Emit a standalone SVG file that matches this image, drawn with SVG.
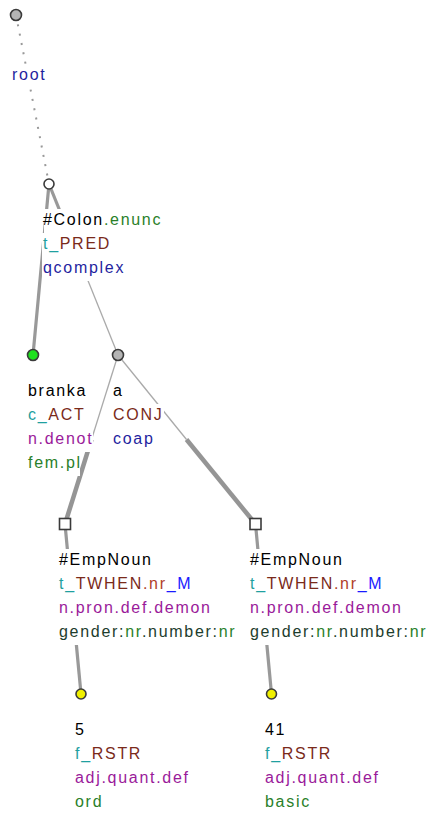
<svg xmlns="http://www.w3.org/2000/svg" width="431" height="816" viewBox="0 0 431 816">
<style>
text{font-family:"Liberation Sans",Arial,sans-serif;font-size:16px;letter-spacing:1.7px}
.bg{fill:#fff}
.k{fill:#000}
.tl{fill:#1fa0a0}
.br{fill:#7a2a1a}
.rb{fill:#b0402a}
.bl{fill:#1a1aff}
.nv{fill:#1f1fa0}
.pu{fill:#9a1a9a}
.gr{fill:#2a7f2a}
.dg{fill:#1d3d2d}
.thin{stroke:#aaa;stroke-width:1.3;fill:none}
.thick{stroke:#999;stroke-width:3.2;fill:none}
.fat{stroke:#959595;stroke-width:4.5;fill:none}
.dot{stroke:#999;stroke-width:2;stroke-dasharray:2 7.5;fill:none}
.nd{stroke:#3a3a3a;stroke-width:1.6}
</style>
<g id="connectors">
<line class="dot" x1="16" y1="15" x2="49" y2="184"/>
<line class="thick" x1="49" y1="184" x2="33" y2="355"/>
<line class="thick" x1="49" y1="184" x2="83.5" y2="269.5"/>
<line class="thin" x1="83.5" y1="269.5" x2="118" y2="355"/>
<line class="thin" x1="118" y1="355" x2="91.5" y2="439.5"/>
<line class="fat" x1="91.5" y1="439.5" x2="65" y2="524"/>
<line class="thin" x1="118" y1="355" x2="186.5" y2="439.5"/>
<line class="fat" x1="186.5" y1="439.5" x2="255.5" y2="524"/>
<line class="thick" x1="65" y1="524" x2="81" y2="694"/>
<line class="thick" x1="255.5" y1="524" x2="271.5" y2="694"/>
</g>
<g id="n-root">
<circle class="nd" cx="16" cy="15" r="5.5" fill="#b4b4b4"/>
<rect class="bg" x="11" y="64" width="34" height="24"/>
<text x="12" y="80" class="nv">root</text>
</g>
<g id="n-colon">
<circle class="nd" cx="49" cy="184" r="5" fill="#fff"/>
<rect class="bg" x="44" y="209" width="119" height="24"/>
<rect class="bg" x="42" y="233" width="69" height="24"/>
<rect class="bg" x="42" y="257" width="83" height="24"/>
<text x="43" y="225"><tspan class="k">#Colon</tspan><tspan class="gr">.enunc</tspan></text>
<text x="43" y="249"><tspan class="tl">t_</tspan><tspan class="br">PRED</tspan></text>
<text x="43" y="273" class="nv">qcomplex</text>
</g>
<g id="n-branka">
<circle class="nd" cx="33" cy="355" r="5.5" fill="#1ee01e"/>
<rect class="bg" x="27" y="380" width="60" height="24"/>
<rect class="bg" x="27" y="404" width="56" height="24"/>
<rect class="bg" x="27" y="428" width="66" height="24"/>
<rect class="bg" x="27" y="452" width="53" height="24"/>
<text x="28" y="396" class="k">branka</text>
<text x="28" y="420"><tspan class="tl">c_</tspan><tspan class="br">ACT</tspan></text>
<text x="28" y="444" class="pu">n.denot</text>
<text x="28" y="468" class="gr">fem.pl</text>
</g>
<g id="n-a">
<circle class="nd" cx="118" cy="355" r="5.5" fill="#b4b4b4"/>
<rect class="bg" x="112" y="380" width="12" height="24"/>
<rect class="bg" x="112" y="404" width="52" height="24"/>
<rect class="bg" x="112" y="428" width="43" height="24"/>
<text x="113" y="396" class="k">a</text>
<text x="113" y="420" class="br">CONJ</text>
<text x="113" y="444" class="nv">coap</text>
</g>
<g id="n-empnoun1">
<rect class="nd" x="59.5" y="518.5" width="11" height="11" fill="#fff"/>
<rect class="bg" x="58" y="549" width="97" height="24"/>
<rect class="bg" x="58" y="573" width="138" height="24"/>
<rect class="bg" x="58" y="597" width="151" height="24"/>
<rect class="bg" x="58" y="621" width="176" height="24"/>
<text x="59" y="565" class="k">#EmpNoun</text>
<text x="59" y="589"><tspan class="tl">t_</tspan><tspan class="br">TWHEN</tspan><tspan class="rb">.nr</tspan><tspan class="bl">_M</tspan></text>
<text x="59" y="613" class="pu">n.pron.def.demon</text>
<text x="59" y="637"><tspan class="dg">gender:</tspan><tspan class="gr">nr</tspan><tspan class="dg">.number:</tspan><tspan class="gr">nr</tspan></text>
</g>
<g id="n-empnoun2">
<rect class="nd" x="250" y="518.5" width="11" height="11" fill="#fff"/>
<rect class="bg" x="249" y="549" width="97" height="24"/>
<rect class="bg" x="249" y="573" width="138" height="24"/>
<rect class="bg" x="249" y="597" width="151" height="24"/>
<rect class="bg" x="249" y="621" width="176" height="24"/>
<text x="250" y="565" class="k">#EmpNoun</text>
<text x="250" y="589"><tspan class="tl">t_</tspan><tspan class="br">TWHEN</tspan><tspan class="rb">.nr</tspan><tspan class="bl">_M</tspan></text>
<text x="250" y="613" class="pu">n.pron.def.demon</text>
<text x="250" y="637"><tspan class="dg">gender:</tspan><tspan class="gr">nr</tspan><tspan class="dg">.number:</tspan><tspan class="gr">nr</tspan></text>
</g>
<g id="n-5">
<circle class="nd" cx="81" cy="694" r="5" fill="#f0f000"/>
<text x="75" y="735" class="k">5</text>
<text x="75" y="759"><tspan class="tl">f_</tspan><tspan class="br">RSTR</tspan></text>
<text x="75" y="783" class="pu">adj.quant.def</text>
<text x="75" y="807" class="gr">ord</text>
</g>
<g id="n-41">
<circle class="nd" cx="271.5" cy="694" r="5" fill="#f0f000"/>
<text x="265" y="735" class="k">41</text>
<text x="265" y="759"><tspan class="tl">f_</tspan><tspan class="br">RSTR</tspan></text>
<text x="265" y="783" class="pu">adj.quant.def</text>
<text x="265" y="807" class="gr">basic</text>
</g>
</svg>
